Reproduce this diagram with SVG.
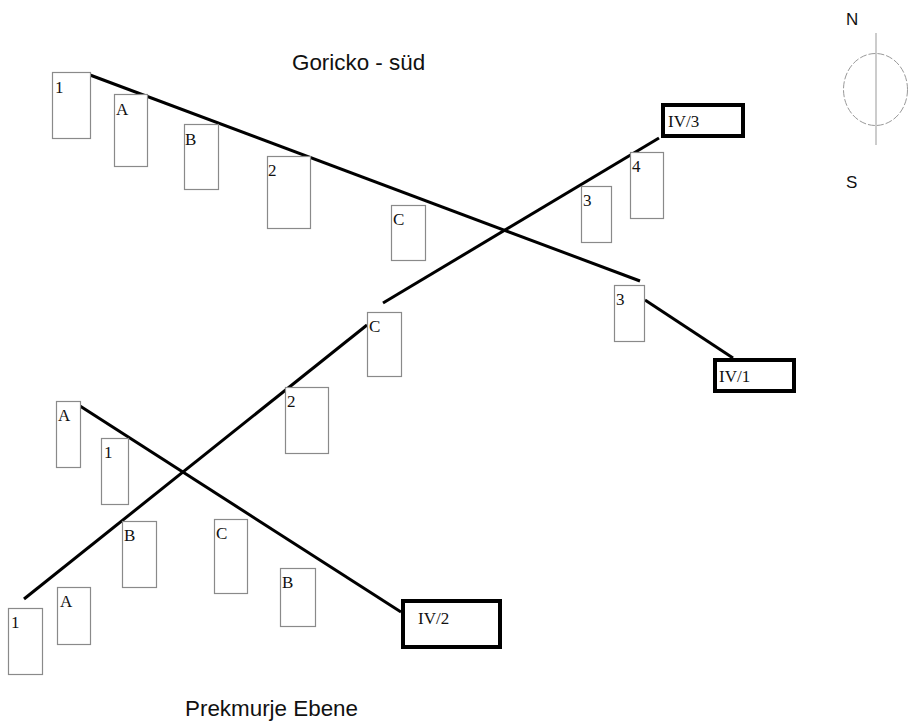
<svg xmlns="http://www.w3.org/2000/svg" width="909" height="722" viewBox="0 0 909 722">
<style>
.bx{fill:#fff;stroke:#8a8a8a;stroke-width:1.2}
.iv{fill:#fff;stroke:#000;stroke-width:4}
.lb{font-family:"Liberation Serif","Times New Roman",serif;font-size:17px;fill:#111}
.ln{stroke:#000;stroke-width:3;fill:none;stroke-linecap:butt}
.ttl{font-family:"Liberation Sans",Arial,sans-serif;font-size:22.4px;fill:#111}
.cmp{font-family:"Liberation Sans",Arial,sans-serif;font-size:17px;fill:#111}
</style>
<rect width="909" height="722" fill="#fff"/>
<text class="ttl" x="292" y="70">Goricko - süd</text>
<text class="ttl" x="185" y="716">Prekmurje Ebene</text>
<g id="compass">
<ellipse cx="875.5" cy="89.5" rx="32" ry="36" fill="none" stroke="#999" stroke-width="1" stroke-dasharray="7,2"/>
<line x1="876" y1="33" x2="876" y2="145" stroke="#999" stroke-width="1"/>
<text class="cmp" x="846" y="25">N</text>
<text class="cmp" x="846" y="188">S</text>
</g>
<g id="connectors">
<line class="ln" x1="90" y1="75" x2="640" y2="281"/>
<line class="ln" x1="383" y1="303" x2="659" y2="138"/>
<line class="ln" x1="367" y1="325" x2="24" y2="599"/>
<line class="ln" x1="645" y1="300" x2="733" y2="358"/>
<line class="ln" x1="80" y1="406" x2="401" y2="612"/>
</g>
<g id="n-1-top"><rect class="bx" x="52.5" y="72.5" width="38" height="66"/><text class="lb" x="55" y="93">1</text></g>
<g id="n-A-top"><rect class="bx" x="114.5" y="94.5" width="33" height="72"/><text class="lb" x="116" y="115">A</text></g>
<g id="n-B-top"><rect class="bx" x="184.5" y="124.5" width="34" height="65"/><text class="lb" x="185" y="145">B</text></g>
<g id="n-2-top"><rect class="bx" x="267.5" y="156.5" width="43" height="72"/><text class="lb" x="268" y="176">2</text></g>
<g id="n-C-top"><rect class="bx" x="391.5" y="205.5" width="34" height="55"/><text class="lb" x="393" y="225">C</text></g>
<g id="n-3-a"><rect class="bx" x="581.5" y="186.5" width="30" height="56"/><text class="lb" x="583" y="206">3</text></g>
<g id="n-4"><rect class="bx" x="630.5" y="152.5" width="33" height="66"/><text class="lb" x="632" y="172">4</text></g>
<g id="n-3-b"><rect class="bx" x="614.5" y="285.5" width="30" height="56"/><text class="lb" x="616" y="305">3</text></g>
<g id="n-C-mid"><rect class="bx" x="367.5" y="312.5" width="34" height="64"/><text class="lb" x="369" y="332">C</text></g>
<g id="n-2-mid"><rect class="bx" x="285.5" y="387.5" width="43" height="66"/><text class="lb" x="287" y="407">2</text></g>
<g id="n-A-left"><rect class="bx" x="56.5" y="401.5" width="24" height="66"/><text class="lb" x="58" y="421">A</text></g>
<g id="n-1-left"><rect class="bx" x="101.5" y="438.5" width="27" height="66"/><text class="lb" x="104" y="458">1</text></g>
<g id="n-B-left"><rect class="bx" x="122.5" y="521.5" width="34" height="66"/><text class="lb" x="124" y="541">B</text></g>
<g id="n-C-low"><rect class="bx" x="214.5" y="519.5" width="33" height="74"/><text class="lb" x="216" y="539">C</text></g>
<g id="n-B-right"><rect class="bx" x="280.5" y="568.5" width="35" height="58"/><text class="lb" x="282" y="588">B</text></g>
<g id="n-A-bottom"><rect class="bx" x="57.5" y="587.5" width="33" height="57"/><text class="lb" x="60" y="607">A</text></g>
<g id="n-1-bottom"><rect class="bx" x="8.5" y="608.5" width="34" height="66"/><text class="lb" x="11" y="628">1</text></g>
<g id="n-IV3"><rect class="iv" x="663" y="105" width="80" height="31"/><text class="lb" x="668" y="127">IV/3</text></g>
<g id="n-IV1"><rect class="iv" x="715" y="360" width="79" height="31"/><text class="lb" x="719" y="382">IV/1</text></g>
<g id="n-IV2"><rect class="iv" x="403" y="601" width="97" height="46"/><text class="lb" x="418" y="624">IV/2</text></g>
</svg>
